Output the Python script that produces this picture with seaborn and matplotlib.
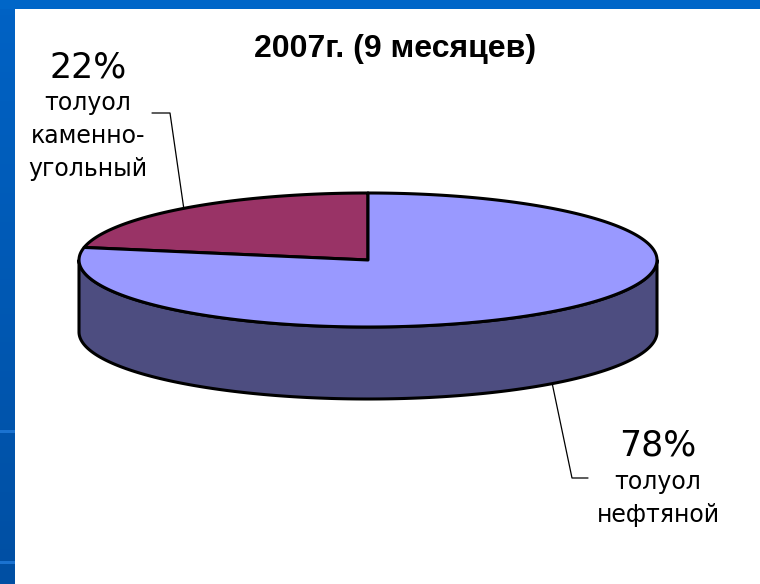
import numpy as np
import matplotlib.pyplot as plt
import seaborn as sns
from matplotlib.patches import Polygon, Rectangle
from matplotlib.colors import LinearSegmentedColormap

title = "2007г. (9 месяцев)"
categories = [["толуол", "каменно-", "угольный"], ["толуол", "нефтяной"]]
shares = [22, 78]

sns.set_theme(style="white")
plt.rcParams['font.family'] = ['DejaVu Sans']

top_colors = sns.color_palette(["#993366", "#9999FF"])
side_colors = sns.color_palette(["#4D1A33", "#4D4D80"])

# pie geometry in pixels
cx, cy, rx, ry, depth = 368, 260, 289, 67, 72


def ell(t, dy=0):
    t = np.radians(t)
    return np.column_stack([cx + rx * np.cos(t), cy - ry * np.sin(t) + dy])


fig = plt.figure(figsize=(7.6, 5.84), dpi=100, facecolor="#0066C8")
ax = fig.add_axes([0, 0, 1, 1])
ax.set_xlim(0, 760)
ax.set_ylim(584, 0)
ax.axis('off')

# slide background: blue frame on the left, white chart area
grad = LinearSegmentedColormap.from_list('strip', ["#0062C4", "#004FA3"])
ax.imshow(np.linspace(0, 1, 100).reshape(-1, 1), cmap=grad, aspect='auto',
          extent=[0, 15, 584, 9], zorder=0)
for yy in [430, 561]:
    ax.add_patch(Rectangle((0, yy), 15, 3, facecolor="#1A72D0", edgecolor='none', zorder=0.5))
ax.add_patch(Rectangle((15, 9), 745, 575, facecolor='white', edgecolor='none', zorder=0.5))
ax.set_xlim(0, 760)
ax.set_ylim(584, 0)

# wedge angles, counter-clockwise from 12 o'clock
fracs = np.array(shares) / sum(shares)
starts = 90 + 360 * np.concatenate([[0], np.cumsum(fracs)[:-1]])
ends = starts + 360 * fracs

# side walls (only the front half, 180..360)
for s, e, col in zip(starts, ends, side_colors):
    for off in [0, 360]:
        a, b = max(s, 180 + off), min(e, 360 + off)
        if b > a:
            t = np.linspace(a, b, 200)
            pts = np.vstack([ell(t), ell(t[::-1], depth)])
            ax.add_patch(Polygon(pts, closed=True, facecolor=col, edgecolor='black',
                                 lw=2.2, joinstyle='round', zorder=2))

# top faces
for s, e, col in zip(starts, ends, top_colors):
    t = np.linspace(s, e, 300)
    pts = np.vstack([[cx, cy], ell(t)])
    ax.add_patch(Polygon(pts, closed=True, facecolor=col, edgecolor='black',
                         lw=2.2, joinstyle='round', zorder=3))

ax.text(395, 57, title, ha='center', va='baseline', fontsize=23, fontweight='bold',
        family='Liberation Sans', color='black')

# labels with leader lines
mids = (starts + ends) / 2
label_pos = [(88, 77), (658, 455)]
line_gap = [33, 33.5]
elbows = [[(152, 113), (170, 113)], [(588, 478), (572, 478)]]
for i, (m, cat, (lx, ly)) in enumerate(zip(mids, categories, label_pos)):
    anchor = ell([m], depth if 180 < m % 360 < 360 else 0)[0]
    (x0, y0), (x1, y1) = elbows[i]
    ax.plot([x0, x1, anchor[0]], [y0, y1, anchor[1]], color='black', lw=0.9, zorder=4)
    ax.text(lx, ly, f"{shares[i]}%", ha='center', va='baseline', fontsize=25,
            color='black')
    for k, line in enumerate(cat):
        ax.text(lx, ly + line_gap[i] * (k + 1), line, ha='center', va='baseline',
                fontsize=17, color='black')

fig.savefig('out.png', dpi=100, facecolor=fig.get_facecolor())
